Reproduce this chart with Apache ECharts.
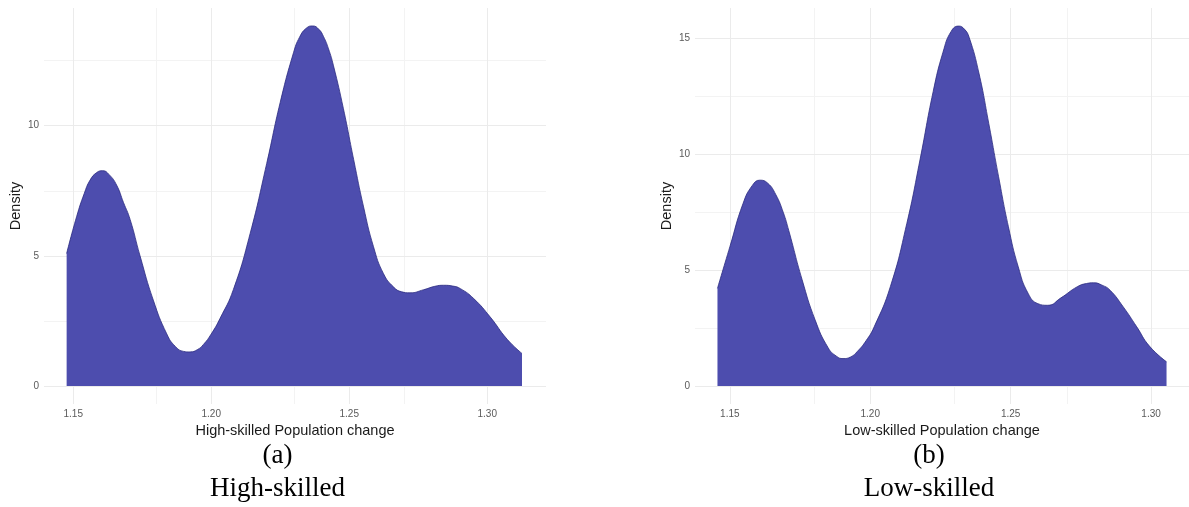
<!DOCTYPE html>
<html>
<head>
<meta charset="utf-8">
<title>Population change density</title>
<script src="https://cdn.jsdelivr.net/npm/echarts@6/dist/echarts.min.js"></script>
<style>
  html, body { margin: 0; padding: 0; background: #ffffff; }
  #chart { width: 1189px; height: 507px; }
</style>
</head>
<body>
<div id="chart"></div>
<script>
// High-skilled: population change (x) and kernel density (y)
const highX = [1.1476, 1.1512, 1.1540, 1.1561, 1.1585, 1.1607, 1.1630, 1.1657, 1.1682, 1.1706, 1.1742, 1.1790,
  1.1839, 1.1870, 1.1900, 1.1923, 1.1950, 1.1972, 1.2000, 1.2032, 1.2080, 1.2141, 1.2201, 1.2250, 1.2298,
  1.2320, 1.2345, 1.2368, 1.2390, 1.2407, 1.2425, 1.2443, 1.2479, 1.2516, 1.2552, 1.2588, 1.2624, 1.2661,
  1.2690, 1.2720, 1.2770, 1.2810, 1.2842, 1.2875, 1.2903, 1.2951, 1.3011, 1.3072, 1.3126];
const highDensity = [5.09, 6.50, 7.40, 7.91, 8.20, 8.27, 8.12, 7.72, 7.05, 6.40, 5.00, 3.30,
  2.00, 1.52, 1.33, 1.31, 1.40, 1.60, 2.00, 2.60, 3.70, 5.86, 8.55, 10.90, 12.80,
  13.40, 13.75, 13.83, 13.70, 13.42, 12.95, 12.30, 10.65, 8.70, 6.88, 5.35, 4.32, 3.80,
  3.62, 3.58, 3.70, 3.83, 3.87, 3.84, 3.74, 3.36, 2.65, 1.80, 1.25];

// Low-skilled: population change (x) and kernel density (y)
const lowX = [1.1456, 1.1500, 1.1547, 1.1580, 1.1607, 1.1635, 1.1664, 1.1690, 1.1710, 1.1757, 1.1804, 1.1850,
  1.1880, 1.1903, 1.1930, 1.1955, 1.1985, 1.2014, 1.2072, 1.2130, 1.2177, 1.2224, 1.2259, 1.2288, 1.2315,
  1.2335, 1.2352, 1.2387, 1.2422, 1.2457, 1.2492, 1.2527, 1.2562, 1.2597, 1.2632, 1.2679, 1.2737, 1.2770,
  1.2796, 1.2825, 1.2854, 1.2901, 1.2949, 1.2994, 1.3055];
const lowDensity = [4.21, 6.00, 7.87, 8.65, 8.88, 8.75, 8.25, 7.50, 6.70, 4.60, 2.84, 1.65,
  1.28, 1.18, 1.25, 1.50, 1.95, 2.55, 4.30, 7.00, 9.75, 12.70, 14.40, 15.30, 15.53,
  15.40, 15.05, 13.50, 11.33, 9.03, 6.87, 5.14, 4.00, 3.55, 3.48, 3.80, 4.28, 4.42,
  4.45, 4.35, 4.13, 3.41, 2.55, 1.72, 1.04];

// Tick values and grid positions
const xTicks = [1.15, 1.20, 1.25, 1.30];
const xMinorTicks = [1.175, 1.225, 1.275];
const yTicksHigh = [0, 5, 10];
const yMinorHigh = [2.5, 7.5, 12.5];
const yTicksLow = [0, 5, 10, 15];
const yMinorLow = [2.5, 7.5, 12.5];

const captions = ['(a)', '(b)'];
const captionNames = ['High-skilled', 'Low-skilled'];
const xTitles = ['High-skilled Population change', 'Low-skilled Population change'];

const SANS = '"Liberation Sans", Arial, Helvetica, sans-serif';
const SERIF = '"Liberation Serif", "Times New Roman", serif';
const FILL = '#4d4dae';

function pairs(xs, ys) { return xs.map((x, i) => [x, ys[i]]); }

function gridLines(xMaj, xMin, yMaj, yMin) {
  const major = { color: '#ebebeb', width: 1, type: 'solid' };
  const minor = { color: '#f3f3f3', width: 1, type: 'solid' };
  const d = [];
  xMin.forEach(v => d.push({ xAxis: v, lineStyle: minor }));
  yMin.forEach(v => d.push({ yAxis: v, lineStyle: minor }));
  xMaj.forEach(v => d.push({ xAxis: v, lineStyle: major }));
  yMaj.forEach(v => d.push({ yAxis: v, lineStyle: major }));
  return d;
}

function xAxisFor(idx, min, max) {
  return {
    type: 'value', gridIndex: idx, min: min, max: max,
    name: xTitles[idx], nameLocation: 'middle', nameGap: 15,
    nameTextStyle: { fontFamily: SANS, fontSize: 14.5, color: '#1a1a1a' },
    axisLine: { show: false, onZero: false },
    axisTick: { show: false, customValues: xTicks },
    splitLine: { show: false },
    axisLabel: {
      customValues: xTicks, margin: 5, fontFamily: SANS, fontSize: 10, color: '#5a5a5a',
      formatter: v => v.toFixed(2)
    }
  };
}

function yAxisFor(idx, min, max, ticks) {
  return {
    type: 'value', gridIndex: idx, min: min, max: max,
    name: 'Density', nameLocation: 'middle', nameGap: 18, nameRotate: 90,
    nameTextStyle: { fontFamily: SANS, fontSize: 14.5, color: '#1a1a1a' },
    axisLine: { show: false },
    axisTick: { show: false, customValues: ticks },
    splitLine: { show: false },
    axisLabel: {
      customValues: ticks, margin: 5, fontFamily: SANS, fontSize: 10, color: '#5a5a5a'
    }
  };
}

function densitySeries(idx, xs, ys, grid) {
  return {
    type: 'line', xAxisIndex: idx, yAxisIndex: idx,
    data: pairs(xs, ys),
    smooth: 0.5,
    showSymbol: false, silent: true, z: 3,
    lineStyle: { color: '#2b2b80', width: 0.8 },
    areaStyle: { color: FILL, opacity: 1, origin: 0 },
    markLine: {
      silent: true, z: 1, symbol: ['none', 'none'], animation: false,
      label: { show: false },
      data: grid
    }
  };
}

const chart = echarts.init(document.getElementById('chart'), null, { renderer: 'canvas' });

chart.setOption({
  backgroundColor: '#ffffff',
  animation: false,
  grid: [
    { left: 44, top: 8, width: 502, height: 396 },
    { left: 695, top: 8, width: 502, height: 396 }
  ],
  xAxis: [
    xAxisFor(0, 1.1394, 1.3213),
    xAxisFor(1, 1.1376, 1.3135)
  ],
  yAxis: [
    yAxisFor(0, -0.69, 14.52, yTicksHigh),
    yAxisFor(1, -0.78, 16.31, yTicksLow)
  ],
  series: [
    densitySeries(0, highX, highDensity, gridLines(xTicks, xMinorTicks, yTicksHigh, yMinorHigh)),
    densitySeries(1, lowX, lowDensity, gridLines(xTicks, xMinorTicks, yTicksLow, yMinorLow))
  ],
  graphic: [
    { type: 'text', x: 277.5, y: 456, style: { text: captions[0], font: '27px ' + SERIF, fill: '#000', align: 'center', verticalAlign: 'middle' } },
    { type: 'text', x: 277.5, y: 489, style: { text: captionNames[0], font: '27px ' + SERIF, fill: '#000', align: 'center', verticalAlign: 'middle' } },
    { type: 'text', x: 929, y: 456, style: { text: captions[1], font: '27px ' + SERIF, fill: '#000', align: 'center', verticalAlign: 'middle' } },
    { type: 'text', x: 929, y: 489, style: { text: captionNames[1], font: '27px ' + SERIF, fill: '#000', align: 'center', verticalAlign: 'middle' } }
  ]
});
</script>
</body>
</html>
